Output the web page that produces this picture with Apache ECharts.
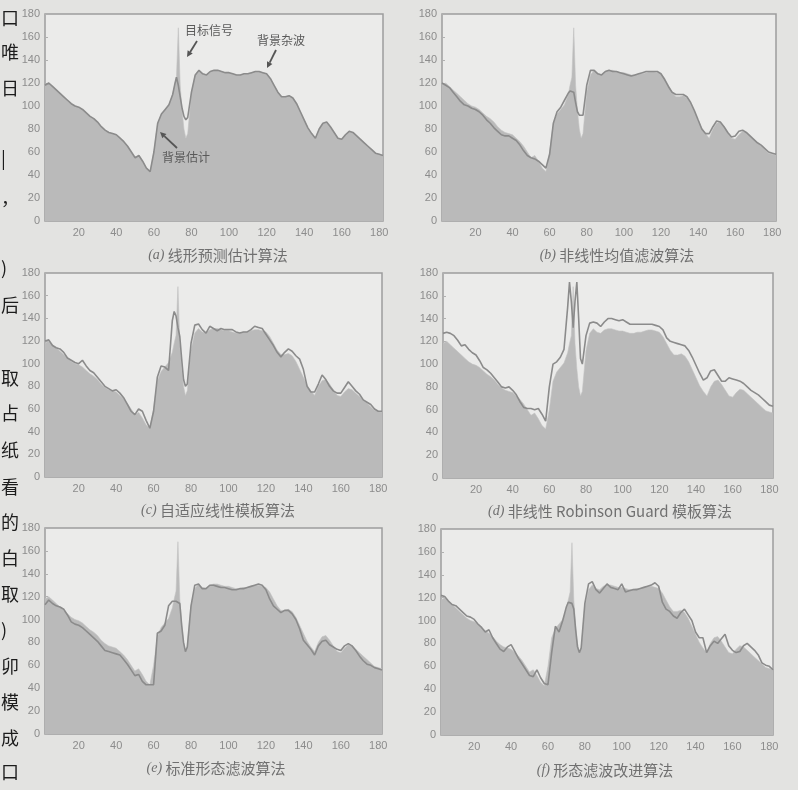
<!DOCTYPE html>
<html>
<head>
<meta charset="utf-8">
<script src="https://cdn.jsdelivr.net/npm/echarts@6/dist/echarts.min.js"></script>
<style>
html,body{margin:0;padding:0;background:#e3e3e1;}
#chart{width:798px;height:790px;}
</style>
</head>
<body>
<div id="chart"></div>
<script>
// sample positions (range cell index)
const xs = [2,4,6,8,10,12,14,16,18,20,
  22,24,26,28,30,32,34,36,38,40,
  42,44,46,48,50,52,54,56,58,60,
  62,64,66,68,70,71,72,73,74,75,
  76,77,78,80,82,84,86,88,90,92,
  94,96,98,100,102,104,106,108,110,112,
  114,116,118,120,122,124,126,128,130,132,
  134,136,138,140,142,144,146,148,150,152,
  154,156,158,160,162,164,166,168,170,172,
  174,176,178,180,182];

// original echo signal (clutter + target), shown as grey fill
const signal = [118,120,117,114,111,108,105,102,100,99,
  97,94,91,89,86,82,79,77,76,75,
  72,69,65,60,55,57,52,46,43,60,
  85,93,97,101,110,118,125,168,118,96,
  80,72,76,112,127,131,128,127,130,131,
  131,130,129,129,128,127,127,128,128,129,
  130,130,129,128,124,118,112,108,108,109,
  107,102,95,88,81,76,72,80,85,86,
  82,77,72,71,75,78,77,74,71,68,
  65,62,59,58,57];

// background estimates of each algorithm
const estA = [118,120,117,114,111,108,105,102,100,99,
  97,94,91,89,86,82,79,77,76,75,
  72,69,65,60,55,57,52,46,43,60,
  85,93,97,101,110,118,125,118,108,98,
  91,88,90,112,127,131,128,127,130,131,
  131,130,129,129,128,127,127,128,128,129,
  130,130,129,128,124,118,112,108,108,109,
  107,102,95,88,81,76,72,80,85,86,
  82,77,72,71,75,78,77,74,71,68,
  65,62,59,58,57];

const estB = [120,118,116,112,108,104,101,100,98,97,
  95,92,88,85,81,78,75,74,74,72,
  70,66,61,57,55,54,52,49,46,58,
  85,95,99,105,111,113,113,112,103,95,
  92,92,92,118,131,131,128,127,130,131,
  130,130,129,128,127,126,127,128,129,130,
  130,130,130,128,123,117,112,110,110,110,
  108,103,96,88,80,76,76,82,87,86,
  82,77,73,74,78,79,77,74,71,68,
  66,63,60,59,58];

const estC = [120,121,116,114,113,110,105,103,101,100,
  103,98,94,92,88,84,80,78,76,77,
  74,70,64,58,55,60,58,50,43,58,
  88,98,97,94,138,146,142,132,124,104,
  86,80,82,118,134,135,130,127,133,131,
  129,131,130,130,130,128,127,128,128,130,
  133,132,131,126,121,116,110,106,110,113,
  111,107,104,95,80,75,75,82,90,86,
  80,76,74,74,79,84,80,76,73,68,
  66,64,60,58,58];

const estD = [127,128,127,125,121,116,117,113,110,108,
  103,97,95,92,88,84,80,79,80,77,
  73,67,62,61,61,60,61,56,50,80,
  100,102,106,113,150,172,155,132,155,172,
  140,105,100,125,136,137,136,133,137,140,
  140,139,138,139,137,135,135,135,135,135,
  135,135,134,133,130,123,120,119,118,117,
  116,112,106,99,92,86,88,94,95,90,
  85,85,88,87,86,85,83,80,77,75,
  73,70,67,64,63];

const estE = [113,117,114,112,111,109,104,98,96,95,
  93,90,87,84,81,77,73,72,71,70,
  69,65,61,56,51,52,46,43,43,43,
  88,90,95,112,116,116,116,116,114,95,
  80,72,76,112,130,131,127,127,130,130,
  129,128,128,127,126,126,127,127,128,129,
  130,131,130,126,118,112,109,106,108,108,
  105,100,92,82,78,74,69,77,81,82,
  78,76,74,73,77,79,77,73,68,64,
  61,60,58,57,56];

const estF = [122,121,117,114,113,110,107,104,103,101,
  97,94,90,92,85,80,75,73,77,79,
  73,67,62,57,52,51,57,50,45,44,
  72,95,90,100,112,116,116,115,110,92,
  77,72,76,115,132,134,127,124,128,132,
  129,128,127,132,125,126,127,127,128,129,
  130,131,133,130,116,110,108,104,102,107,
  110,105,100,90,85,85,72,78,82,80,
  84,88,78,74,72,73,78,80,77,74,
  70,63,61,60,57];

const xTickLabels = [20,40,60,80,100,120,140,160,180];
const yTickLabels = [0,20,40,60,80,100,120,140,160,180];

const captionTags = ['(a)','(b)','(c)','(d)','(e)','(f)'];
const captionTexts = ['线形预测估计算法','非线性均值滤波算法','自适应线性模板算法','非线性 Robinson Guard 模板算法','标准形态滤波算法','形态滤波改进算法'];

const annotationTexts = ['目标信号','背景杂波','背景估计'];
const marginChars = ['口','唯','日','|','，',')','后','取','占','纸','看','的','白','取',')','卯','模','成','口'];

const estimates = [estA, estB, estC, estD, estE, estF];

// layout (pixels)
const grids = [
  {left:45, top:14, width:338, height:207},
  {left:442, top:14, width:334, height:207},
  {left:45, top:273, width:337, height:204},
  {left:443, top:273, width:330, height:205},
  {left:45, top:528, width:337, height:206},
  {left:441, top:529, width:332, height:206}
];
const captionPos = [[218,255],[617,255],[218,510],[610,511],[216,768],[605,770]];
const marginY = [18,52,88,158,198,268,305,378,413,450,487,522,558,594,630,666,702,738,772];

const FILL = '#bababa', LINE = '#8b8b8b', FRAME = '#9d9d9d', LABEL = '#8c8c8c';

const pairs = arr => xs.map((x, i) => [x, arr[i]]);

const option = {
  animation: false,
  backgroundColor: '#e3e3e1',
  grid: grids.map(g => Object.assign({show:true, backgroundColor:'#ebebea', borderColor:FRAME, borderWidth:1.5}, g)),
  xAxis: grids.map((g, i) => ({
    type:'value', gridIndex:i, min:2, max:182,
    axisLine:{show:false},
    axisTick:{show:true, inside:true, length:3, customValues:xTickLabels, lineStyle:{color:'#b0b0b0'}},
    splitLine:{show:false},
    axisLabel:{customValues:xTickLabels, color:LABEL, fontSize:11, fontFamily:'Liberation Sans', margin:6}
  })),
  yAxis: grids.map((g, i) => ({
    type:'value', gridIndex:i, min:0, max:180, interval:20,
    axisLine:{show:false},
    axisTick:{show:true, inside:true, length:3, lineStyle:{color:'#b0b0b0'}},
    splitLine:{show:false},
    axisLabel:{color:LABEL, fontSize:11, fontFamily:'Liberation Sans', margin:5,
      customValues: yTickLabels}
  })),
  series: []
};

grids.forEach((g, i) => {
  option.series.push({
    type:'line', xAxisIndex:i, yAxisIndex:i, data:pairs(signal),
    showSymbol:false, symbol:'none', silent:true, z:2,
    lineStyle:{width:0.6, color:'#c2c2c2'},
    areaStyle:{color:FILL, opacity:1}
  });
  option.series.push({
    type:'line', xAxisIndex:i, yAxisIndex:i, data:pairs(estimates[i]),
    showSymbol:false, symbol:'none', silent:true, z:3,
    lineStyle:{width:1.6, color:LINE}
  });
});

function arrow(x1, y1, x2, y2) {
  const a = Math.atan2(y2 - y1, x2 - x1), L = 6, W = 3;
  const bx = x2 - L * Math.cos(a), by = y2 - L * Math.sin(a);
  return [
    {type:'line', shape:{x1:x1, y1:y1, x2:bx, y2:by}, style:{stroke:'#555', lineWidth:1.8}, z:20},
    {type:'polygon', shape:{points:[[x2,y2],[bx - W*Math.sin(a), by + W*Math.cos(a)],[bx + W*Math.sin(a), by - W*Math.cos(a)]]}, style:{fill:'#555'}, z:20}
  ];
}

const graphics = [];
// captions
captionPos.forEach((p, i) => {
  graphics.push({
    type:'text', x:p[0], y:p[1], z:20,
    style:{
      text:'{t|' + captionTags[i] + '} {c|' + captionTexts[i] + '}',
      align:'center', verticalAlign:'middle',
      rich:{
        t:{fontFamily:'Liberation Serif', fontStyle:'italic', fontSize:14, fill:'#707070'},
        c:{fontFamily:'Noto Sans CJK SC', fontSize:15, fill:'#707070'}
      }
    }
  });
});
// annotations on panel (a)
graphics.push({type:'text', x:185, y:30, z:20, style:{text:annotationTexts[0], fontFamily:'Noto Sans CJK SC', fontSize:12, fill:'#5a5a5a', verticalAlign:'middle'}});
graphics.push({type:'text', x:257, y:40, z:20, style:{text:annotationTexts[1], fontFamily:'Noto Sans CJK SC', fontSize:12, fill:'#5a5a5a', verticalAlign:'middle'}});
graphics.push({type:'text', x:162, y:157, z:20, style:{text:annotationTexts[2], fontFamily:'Noto Sans CJK SC', fontSize:12, fill:'#5a5a5a', verticalAlign:'middle'}});
graphics.push(...arrow(197, 41, 187, 57));
graphics.push(...arrow(276, 50, 267, 68));
graphics.push(...arrow(177, 148, 160, 132));
// margin text of the scanned page
marginChars.forEach((ch, i) => {
  graphics.push({type:'text', x:1, y:marginY[i], z:20, style:{text:ch, fontFamily:'Noto Sans CJK SC', fontSize:18, fill:'#1c1c1c', verticalAlign:'middle'}});
});
option.graphic = graphics;

const chart = echarts.init(document.getElementById('chart'), null, {renderer:'canvas'});
chart.setOption(option);
</script>
</body>
</html>
